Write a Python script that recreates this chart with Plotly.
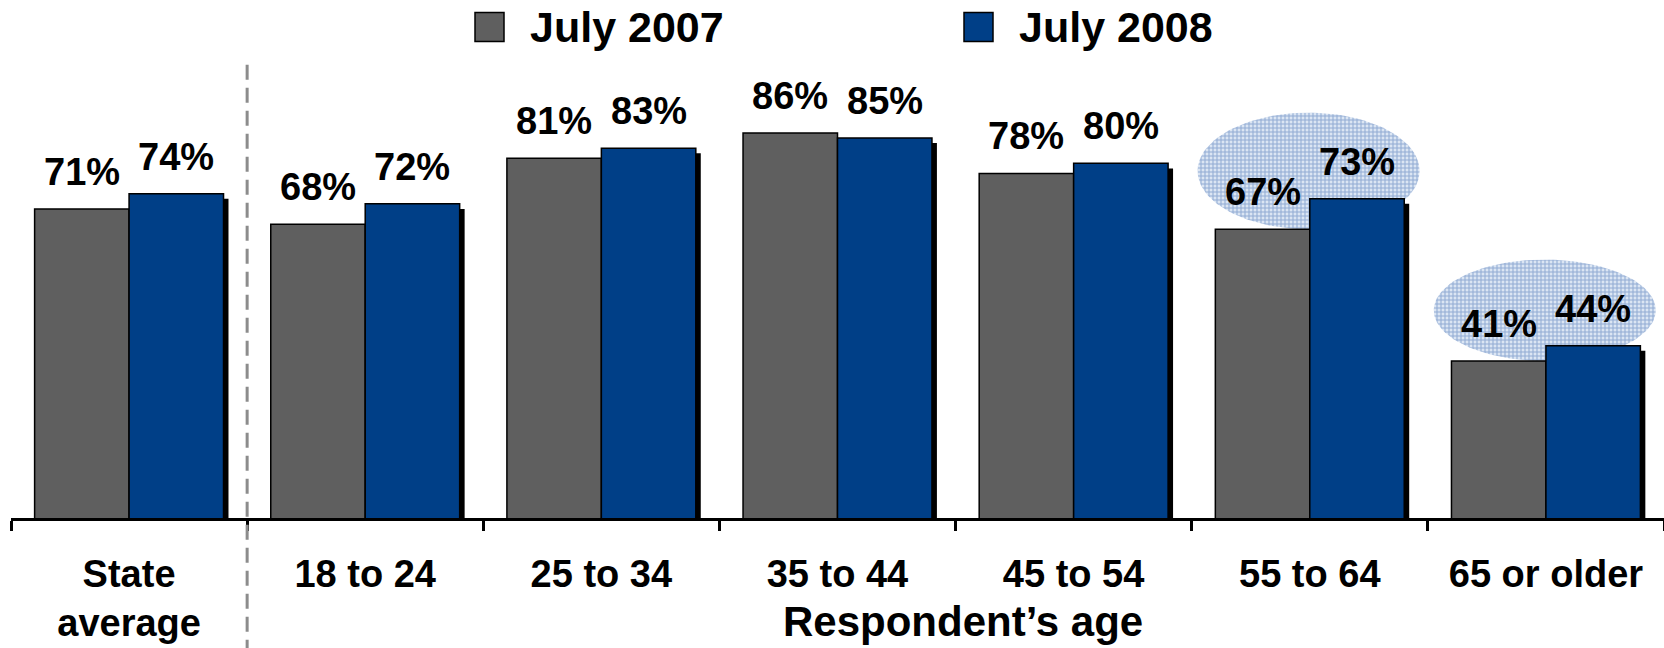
import numpy as np
import plotly.graph_objects as go

# ---- data ----
categories = ['State<br>average', '18 to 24', '25 to 34', '35 to 44',
              '45 to 54', '55 to 64', '65 or older']
july_2007 = [71, 68, 81, 86, 78, 67, 41]
july_2008 = [74, 72, 83, 85, 80, 73, 44]
series_names = ['July 2007', 'July 2008']
highlighted = ['55 to 64', '65 or older']
axis_title = 'Respondent\u2019s age'

# ---- style ----
GRAY = '#5f5f5f'
BLUE = '#003f87'
FONT = 'Liberation Sans, Arial, sans-serif'
W, H = 1664, 648
ML, MR, MT, MB = 11, 0, 62, 130
YMIN, YMAX = 10, 100
BAR_W = 0.4
SH_DX = 0.021      # shadow shift (category units)
SH_DY = 1.0        # shadow shift (value units)

xpos = np.arange(len(categories))
fig = go.Figure()

# highlight ellipses (base subplot, drawn behind the bars)
for cat in highlighted:
    i = categories.index(cat)
    lo, hi = july_2007[i], july_2008[i] + 17
    cx, cy = xpos[i] - 0.005, (lo + hi) / 2
    a, b = 0.47, (hi - lo) / 2
    t = np.linspace(0, 2 * np.pi, 120)
    fig.add_trace(go.Scatter(
        x=cx + a * np.cos(t), y=cy + b * np.sin(t), mode='lines',
        line=dict(width=0), fill='toself', fillcolor='#b9cbe6',
        fillpattern=dict(shape='+', fgcolor='#4570b3', bgcolor='#dbe5f3',
                         size=4, solidity=0.45),
        hoverinfo='skip', showlegend=False, xaxis='x', yaxis='y'))

# shadows
for vals, off in [(july_2007, -BAR_W), (july_2008, 0)]:
    fig.add_trace(go.Bar(
        x=xpos, y=[v - SH_DY for v in vals], width=BAR_W, offset=off + SH_DX,
        marker=dict(color='black', line=dict(width=0)),
        hoverinfo='skip', showlegend=False, xaxis='x2', yaxis='y2'))

# main bars
for vals, off, col, name in [(july_2007, -BAR_W, GRAY, series_names[0]),
                             (july_2008, 0, BLUE, series_names[1])]:
    fig.add_trace(go.Bar(
        x=xpos, y=vals, width=BAR_W, offset=off, name=name,
        marker=dict(color=col, line=dict(color='black', width=1.5)),
        showlegend=False, xaxis='x2', yaxis='y2'))

annotations = []
for vals, dx in [(july_2007, -BAR_W / 2), (july_2008, BAR_W / 2)]:
    for i, v in enumerate(vals):
        annotations.append(dict(
            x=xpos[i] + dx, y=v, xref='x2', yref='y2', text=f'{v}%',
            showarrow=False, yanchor='bottom', yshift=14,
            font=dict(family=FONT, size=38, color='black', weight='bold')))

# axis title
annotations.append(dict(
    x=0.576, y=(0 - 129) / (H - MT - MB), xref='paper', yref='paper',
    text=axis_title, showarrow=False, yanchor='bottom',
    font=dict(family=FONT, size=42, color='black', weight='bold')))

# legend (manual, to match large swatches)
pw = W - ML - MR
ph = H - MT - MB
def px_x(p):
    return (p - ML) / pw
def px_y(p):
    return (H - MB - p) / ph

shapes = []
legend_items = [(series_names[0], GRAY, 475), (series_names[1], BLUE, 964)]
for name, col, x0 in legend_items:
    shapes.append(dict(type='rect', xref='paper', yref='paper',
                       x0=px_x(x0), x1=px_x(x0 + 29), y0=px_y(41.5), y1=px_y(12.5),
                       fillcolor=col, line=dict(color='black', width=1.5)))
    annotations.append(dict(
        x=px_x(x0 + 53), y=px_y(27), xref='paper', yref='paper', text=name,
        showarrow=False, xanchor='left', yanchor='middle',
        font=dict(family=FONT, size=43, color='black', weight='bold')))

# dashed separator after the state average
shapes.append(dict(type='line', xref='paper', yref='paper',
                   x0=1 / len(categories), x1=1 / len(categories),
                   y0=-0.3, y1=px_y(58),
                   line=dict(color='#8c8c8c', width=3, dash='15px,8px')))

xr = [-0.5, len(categories) - 0.5]
fig.update_layout(
    width=W, height=H,
    margin=dict(l=ML, r=MR, t=MT, b=MB),
    paper_bgcolor='white', plot_bgcolor='white',
    barmode='overlay',
    showlegend=False,
    hovermode=False,
    xaxis=dict(range=xr, tickmode='array', tickvals=list(xpos), ticktext=categories,
               ticks='', showgrid=False, zeroline=False,
               showline=True, linecolor='black', linewidth=3,
               tickfont=dict(family=FONT, size=38, color='black', weight='bold'),
               ticklabelstandoff=20,
               minor=dict(tickmode='linear', tick0=-0.5, dtick=1, ticks='outside',
                          ticklen=10, tickwidth=3, tickcolor='black', showgrid=False)),
    yaxis=dict(range=[YMIN, YMAX], visible=False),
    xaxis2=dict(range=xr, overlaying='x', visible=False),
    yaxis2=dict(range=[YMIN, YMAX], overlaying='y', visible=False),
    annotations=annotations,
    shapes=shapes,
)

fig.write_html('out.html',
               config={'displayModeBar': False, 'staticPlot': True},
               post_script="document.body.style.margin='0';"
                           "document.body.style.overflow='hidden';")
